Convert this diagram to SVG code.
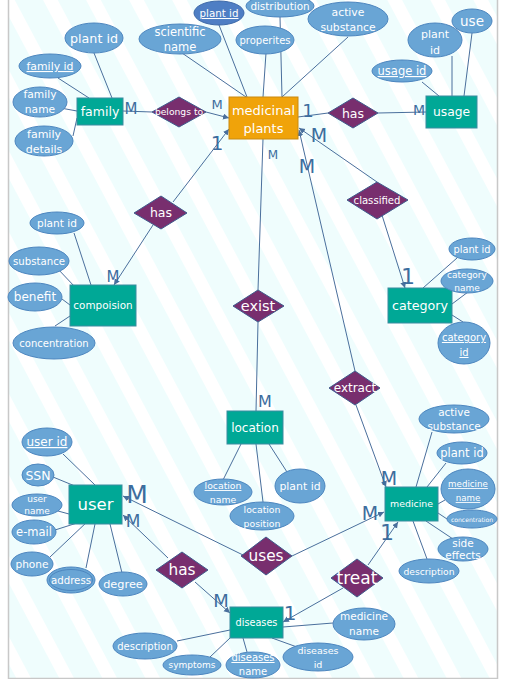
<svg xmlns="http://www.w3.org/2000/svg" width="508" height="691" viewBox="0 0 508 691">
<defs>
<pattern id="stripes" patternUnits="userSpaceOnUse" width="38" height="38" patternTransform="rotate(-28)">
<rect width="38" height="38" fill="#effdfd"/>
<rect width="13" height="38" fill="#ffffff"/>
</pattern>
<marker id="arr" markerUnits="userSpaceOnUse" markerWidth="7" markerHeight="7" refX="6" refY="3" orient="auto">
<path d="M0,0 L6,3 L0,6 z" fill="#4a6f9c"/>
</marker>
<style>
.ent{fill:#00a896;stroke:#3a8ca0;stroke-width:1}
.med{fill:#f0a30a;stroke:#c98a10;stroke-width:1}
.rel{fill:#782e6e;stroke:#3f5b8c;stroke-width:1}
.att{fill:#69a5d5;stroke:#4d86bf;stroke-width:1}
.ln{stroke:#4a6f9c;stroke-width:1;fill:none}
.ar{marker-end:url(#arr)}
text{font-family:"DejaVu Sans","Liberation Sans",sans-serif;fill:#ffffff;text-anchor:middle}
.u{text-decoration:underline}
.card{fill:#3d6d9e;text-anchor:middle}
</style>
</defs>
<rect x="0" y="0" width="508" height="691" fill="#ffffff"/>
<rect x="9" y="0" width="488" height="678" fill="url(#stripes)"/>
<path d="M8.5,0 V678.5 H497.5 V0" fill="none" stroke="#c8c8c8" stroke-width="1.5"/>

<g id="connectors">
<line class="ln" x1="94" y1="53" x2="112" y2="98"/>
<line class="ln" x1="58" y1="78" x2="89" y2="98"/>
<line class="ln" x1="55" y1="107" x2="77" y2="111"/>
<line class="ln" x1="73" y1="136" x2="77" y2="118"/>
<line class="ln" x1="123" y1="111" x2="152" y2="112"/>
<line class="ln ar" x1="206" y1="112" x2="229" y2="118"/>
<line class="ln" x1="182" y1="53" x2="246" y2="97"/>
<line class="ln" x1="219" y1="25" x2="247" y2="97"/>
<line class="ln" x1="266" y1="53" x2="263" y2="97"/>
<line class="ln" x1="280" y1="17" x2="282" y2="97"/>
<line class="ln" x1="348" y1="37" x2="282" y2="97"/>
<line class="ln" x1="298" y1="117" x2="328" y2="113"/>
<line class="ln" x1="378" y1="113" x2="426" y2="112"/>
<line class="ln" x1="422" y1="82" x2="439" y2="96"/>
<line class="ln" x1="452" y1="56" x2="452" y2="96"/>
<line class="ln" x1="472" y1="33" x2="464" y2="96"/>
<line class="ln ar" x1="173" y1="202" x2="229" y2="129"/>
<line class="ln ar" x1="153" y1="225" x2="114" y2="285"/>
<line class="ln" x1="74" y1="233" x2="91" y2="285"/>
<line class="ln" x1="57" y1="268" x2="75" y2="287"/>
<line class="ln" x1="62" y1="299" x2="70" y2="305"/>
<line class="ln" x1="55" y1="326" x2="70" y2="316"/>
<line class="ln ar" x1="377" y1="182" x2="299" y2="128"/>
<line class="ln ar" x1="381" y1="212" x2="405" y2="288"/>
<line class="ln ar" x1="355" y1="371" x2="299" y2="130"/>
<line class="ln" x1="263" y1="139" x2="258" y2="290"/>
<line class="ln" x1="258" y1="322" x2="256" y2="411"/>
<line class="ln" x1="241" y1="444" x2="223" y2="480"/>
<line class="ln" x1="256" y1="444" x2="263" y2="502"/>
<line class="ln" x1="269" y1="444" x2="287" y2="472"/>
<line class="ln ar" x1="356" y1="405" x2="386" y2="487"/>
<line class="ln" x1="432" y1="432" x2="416" y2="487"/>
<line class="ln" x1="446" y1="463" x2="427" y2="487"/>
<line class="ln" x1="438" y1="504" x2="445" y2="500"/>
<line class="ln" x1="438" y1="513" x2="447" y2="519"/>
<line class="ln" x1="426" y1="521" x2="453" y2="539"/>
<line class="ln" x1="413" y1="521" x2="427" y2="559"/>
<line class="ln ar" x1="245" y1="556" x2="123" y2="496"/>
<line class="ln ar" x1="292" y1="556" x2="384" y2="512"/>
<line class="ln ar" x1="168" y1="558" x2="123" y2="515"/>
<line class="ln ar" x1="195" y1="582" x2="230" y2="613"/>
<line class="ln ar" x1="368" y1="565" x2="398" y2="522"/>
<line class="ln ar" x1="343" y1="588" x2="283" y2="622"/>
<line class="ln" x1="283" y1="627" x2="333" y2="623"/>
<line class="ln" x1="230" y1="630" x2="177" y2="641"/>
<line class="ln" x1="230" y1="638" x2="210" y2="657"/>
<line class="ln" x1="243" y1="638" x2="247" y2="652"/>
<line class="ln" x1="272" y1="638" x2="297" y2="647"/>
<line class="ln" x1="63" y1="454" x2="95" y2="485"/>
<line class="ln" x1="53" y1="477" x2="87" y2="491"/>
<line class="ln" x1="58" y1="511" x2="69" y2="514"/>
<line class="ln" x1="55" y1="530" x2="77" y2="523"/>
<line class="ln" x1="50" y1="557" x2="88" y2="521"/>
<line class="ln" x1="86" y1="568" x2="95" y2="524"/>
<line class="ln" x1="122" y1="573" x2="110" y2="524"/>
<line class="ln" x1="457" y1="258" x2="423" y2="288"/>
<line class="ln" x1="468" y1="292" x2="452" y2="304"/>
<line class="ln" x1="452" y1="315" x2="463" y2="322"/>
<text class="card" x="131" y="114" font-size="15">M</text>
<text class="card" x="217" y="109" font-size="13">M</text>
<text class="card" x="308" y="117" font-size="18">1</text>
<text class="card" x="419" y="115" font-size="14">M</text>
<text class="card" x="217" y="150" font-size="20">1</text>
<text class="card" x="319" y="142" font-size="19">M</text>
<text class="card" x="307" y="173" font-size="19">M</text>
<text class="card" x="273" y="159" font-size="12">M</text>
<text class="card" x="113" y="282" font-size="15">M</text>
<text class="card" x="408" y="284" font-size="22">1</text>
<text class="card" x="265" y="407" font-size="16">M</text>
<text class="card" x="137" y="503" font-size="25">M</text>
<text class="card" x="133" y="527" font-size="17">M</text>
<text class="card" x="389" y="485" font-size="19">M</text>
<text class="card" x="370" y="520" font-size="19">M</text>
<text class="card" x="387" y="540" font-size="22">1</text>
<text class="card" x="221" y="607" font-size="18">M</text>
<text class="card" x="290" y="620" font-size="20">1</text>
</g>

<g id="family">
<rect class="ent" x="77" y="98" width="46" height="27"/>
<text x="100" y="116" font-size="12.5">family</text>
</g>
<g id="medicinal-plants">
<rect class="med" x="229" y="97" width="69" height="42"/>
<text x="263.5" y="115" font-size="13">medicinal</text>
<text x="263.5" y="133" font-size="13">plants</text>
</g>
<g id="usage">
<rect class="ent" x="426" y="96" width="51" height="32"/>
<text x="451.5" y="116" font-size="12.3">usage</text>
</g>
<g id="compoision">
<rect class="ent" x="70" y="285" width="66" height="41"/>
<text x="103" y="309" font-size="10.4">compoision</text>
</g>
<g id="category">
<rect class="ent" x="388" y="288" width="64" height="35"/>
<text x="420" y="310" font-size="12.7">category</text>
</g>
<g id="location">
<rect class="ent" x="227" y="411" width="56" height="33"/>
<text x="255" y="432" font-size="12">location</text>
</g>
<g id="user">
<rect class="ent" x="69" y="485" width="53" height="39"/>
<text x="95.5" y="510" font-size="16.5">user</text>
</g>
<g id="medicine">
<rect class="ent" x="385" y="487" width="53" height="34"/>
<text x="411.5" y="507" font-size="9.4">medicine</text>
</g>
<g id="diseases">
<rect class="ent" x="230" y="607" width="53" height="31"/>
<text x="256.5" y="626" font-size="9.7">diseases</text>
</g>

<g id="rel-belongs-to">
<polygon class="rel" points="152,112 179,97 206,112 179,127"/>
<text x="179" y="115" font-size="9.2">belongs to</text>
</g>
<g id="rel-has-usage">
<polygon class="rel" points="328,113 353,98 378,113 353,128"/>
<text x="353" y="117.5" font-size="12.5">has</text>
</g>
<g id="rel-has-compoision">
<polygon class="rel" points="134,213 161,196 187,213 161,229"/>
<text x="161" y="217" font-size="12.5">has</text>
</g>
<g id="rel-classified">
<polygon class="rel" points="347,200 377,182 408,200 377,219"/>
<text x="377" y="204" font-size="10.1">classified</text>
</g>
<g id="rel-exist">
<polygon class="rel" points="233,306 258,290 284,306 258,322"/>
<text x="258" y="311" font-size="14.5">exist</text>
</g>
<g id="rel-extract">
<polygon class="rel" points="329,388 355,371 380,388 355,405"/>
<text x="355" y="392" font-size="12">extract</text>
</g>
<g id="rel-uses">
<polygon class="rel" points="241,556 266,537 292,556 266,575"/>
<text x="266" y="561" font-size="15.3">uses</text>
</g>
<g id="rel-has-diseases">
<polygon class="rel" points="156,570 182,552 208,570 182,588"/>
<text x="182" y="575" font-size="15.3">has</text>
</g>
<g id="rel-treat">
<polygon class="rel" points="331,578 357,559 383,578 357,597"/>
<text x="357" y="584" font-size="17">treat</text>
</g>

<g id="attr-family-plant-id"><ellipse class="att" cx="94" cy="38" rx="29" ry="15"/><text x="94" y="42.5" font-size="12.7">plant id</text></g>
<g id="attr-family-id"><ellipse class="att" cx="50" cy="66" rx="31" ry="12"/><text class="u" x="50" y="70" font-size="10.9">family id</text></g>
<g id="attr-family-name"><ellipse class="att" cx="40" cy="102" rx="27" ry="15"/><text x="40" y="98" font-size="10.7">family</text><text x="40" y="113" font-size="10.7">name</text></g>
<g id="attr-family-details"><ellipse class="att" cx="44" cy="141" rx="29" ry="15"/><text x="44" y="138" font-size="11">family</text><text x="44" y="153" font-size="11">details</text></g>
<g id="attr-scientific-name"><ellipse class="att" cx="180" cy="39" rx="41" ry="15"/><text x="180" y="36" font-size="11.5">scientific</text><text x="180" y="51" font-size="11.5">name</text></g>
<g id="attr-med-plant-id"><ellipse cx="219" cy="13" rx="25" ry="12" fill="#4e7ec4" stroke="#3d69a8"/><text class="u" x="219" y="17" font-size="10.3">plant id</text></g>
<g id="attr-distribution"><ellipse class="att" cx="280" cy="6" rx="34" ry="11"/><text x="280" y="10" font-size="10.4">distribution</text></g>
<g id="attr-properites"><ellipse class="att" cx="265" cy="40" rx="29" ry="14"/><text x="265" y="44" font-size="10">properites</text></g>
<g id="attr-active-substance"><ellipse class="att" cx="348" cy="19" rx="40" ry="17"/><text x="348" y="16" font-size="10.8">active</text><text x="348" y="31" font-size="10.8">substance</text></g>
<g id="attr-usage-id"><ellipse class="att" cx="402" cy="71" rx="30" ry="11"/><text class="u" x="402" y="75" font-size="11.5">usage id</text></g>
<g id="attr-usage-plant-id"><ellipse class="att" cx="435" cy="40" rx="27" ry="17"/><text x="435" y="38" font-size="11">plant</text><text x="435" y="54" font-size="11">id</text></g>
<g id="attr-use"><ellipse class="att" cx="472" cy="21" rx="20" ry="12"/><text x="472" y="26" font-size="13.5">use</text></g>

<g id="attr-comp-plant-id"><ellipse class="att" cx="57" cy="223" rx="27" ry="11"/><text x="57" y="227" font-size="10.6">plant id</text></g>
<g id="attr-substance"><ellipse class="att" cx="39" cy="261" rx="30" ry="14"/><text x="39" y="265" font-size="10.2">substance</text></g>
<g id="attr-benefit"><ellipse class="att" cx="35" cy="297" rx="27" ry="14"/><text x="35" y="301" font-size="12">benefit</text></g>
<g id="attr-concentration"><ellipse class="att" cx="54" cy="343" rx="41" ry="16"/><text x="54" y="347" font-size="10">concentration</text></g>

<g id="attr-cat-plant-id"><ellipse class="att" cx="472" cy="249" rx="23" ry="11"/><text x="472" y="253" font-size="9.8">plant id</text></g>
<g id="attr-category-name"><ellipse class="att" cx="467" cy="281" rx="26" ry="12"/><text x="467" y="278" font-size="9">category</text><text x="467" y="291" font-size="9">name</text></g>
<g id="attr-category-id"><ellipse class="att" cx="464" cy="343" rx="26" ry="21"/><text class="u" x="464" y="341" font-size="10">category</text><text class="u" x="464" y="356" font-size="10">id</text></g>

<g id="attr-location-name"><ellipse class="att" cx="223" cy="492" rx="29" ry="13"/><text class="u" x="223" y="489" font-size="9.3">location</text><text x="223" y="503" font-size="9.3">name</text></g>
<g id="attr-location-position"><ellipse class="att" cx="262" cy="516" rx="32" ry="14"/><text x="262" y="513" font-size="9.3">location</text><text x="262" y="527" font-size="9.3">position</text></g>
<g id="attr-loc-plant-id"><ellipse class="att" cx="300" cy="486" rx="25" ry="17"/><text x="300" y="490" font-size="10.9">plant id</text></g>

<g id="attr-user-id"><ellipse class="att" cx="47" cy="442" rx="25" ry="14"/><text class="u" x="47" y="446" font-size="12">user id</text></g>
<g id="attr-ssn"><ellipse class="att" cx="38" cy="475" rx="16" ry="11"/><text x="38" y="480" font-size="12.5">SSN</text></g>
<g id="attr-user-name"><ellipse class="att" cx="37" cy="505" rx="25" ry="11"/><text x="37" y="502" font-size="9">user</text><text x="37" y="514" font-size="9">name</text></g>
<g id="attr-email"><ellipse class="att" cx="34" cy="532" rx="22" ry="12"/><text x="34" y="536" font-size="11.5">e-mail</text></g>
<g id="attr-phone"><ellipse class="att" cx="32" cy="564" rx="21" ry="12"/><text x="32" y="568" font-size="10.6">phone</text></g>
<g id="attr-address"><ellipse class="att" cx="71" cy="580" rx="24" ry="13"/><ellipse cx="71" cy="580" rx="21.5" ry="10.5" fill="none" stroke="#4d86bf"/><text x="71" y="584" font-size="10.2">address</text></g>
<g id="attr-degree"><ellipse class="att" cx="123" cy="584" rx="24" ry="12"/><text x="123" y="588" font-size="11.3">degree</text></g>

<g id="attr-med-active-substance"><ellipse class="att" cx="454" cy="419" rx="35" ry="14"/><text x="454" y="416" font-size="10.4">active</text><text x="454" y="430" font-size="10.4">substance</text></g>
<g id="attr-med-plant-id2"><ellipse class="att" cx="462" cy="453" rx="25" ry="11"/><text x="462" y="457" font-size="11.5">plant id</text></g>
<g id="attr-medicine-name"><ellipse class="att" cx="468" cy="489" rx="27" ry="20"/><text class="u" x="468" y="487" font-size="8.7">medicine</text><text class="u" x="468" y="501" font-size="8.7">name</text></g>
<g id="attr-med-concentration"><ellipse class="att" cx="472" cy="519" rx="25" ry="9"/><text x="472" y="521.5" font-size="6.1">concentration</text></g>
<g id="attr-side-effects"><ellipse class="att" cx="463" cy="549" rx="25" ry="12"/><text x="463" y="547" font-size="10.5">side</text><text x="463" y="559" font-size="10.5">effects</text></g>
<g id="attr-med-description"><ellipse class="att" cx="429" cy="571" rx="30" ry="12"/><text x="429" y="574.5" font-size="9.2">description</text></g>

<g id="attr-dis-medicine-name"><ellipse class="att" cx="364" cy="624" rx="31" ry="16"/><text x="364" y="620" font-size="10.5">medicine</text><text x="364" y="635" font-size="10.5">name</text></g>
<g id="attr-dis-description"><ellipse class="att" cx="145" cy="646" rx="32" ry="13"/><text x="145" y="650" font-size="10">description</text></g>
<g id="attr-symptoms"><ellipse class="att" cx="192" cy="665" rx="29" ry="10"/><text x="192" y="668" font-size="9">symptoms</text></g>
<g id="attr-diseases-name"><ellipse class="att" cx="253" cy="665" rx="27" ry="13"/><text class="u" x="253" y="661" font-size="10">diseases</text><text x="253" y="675" font-size="10">name</text></g>
<g id="attr-diseases-id"><ellipse class="att" cx="318" cy="657" rx="35" ry="14"/><text x="318" y="654" font-size="9.5">diseases</text><text x="318" y="668" font-size="9.5">id</text></g>
<rect x="0" y="679" width="508" height="12" fill="#ffffff"/>
</svg>
